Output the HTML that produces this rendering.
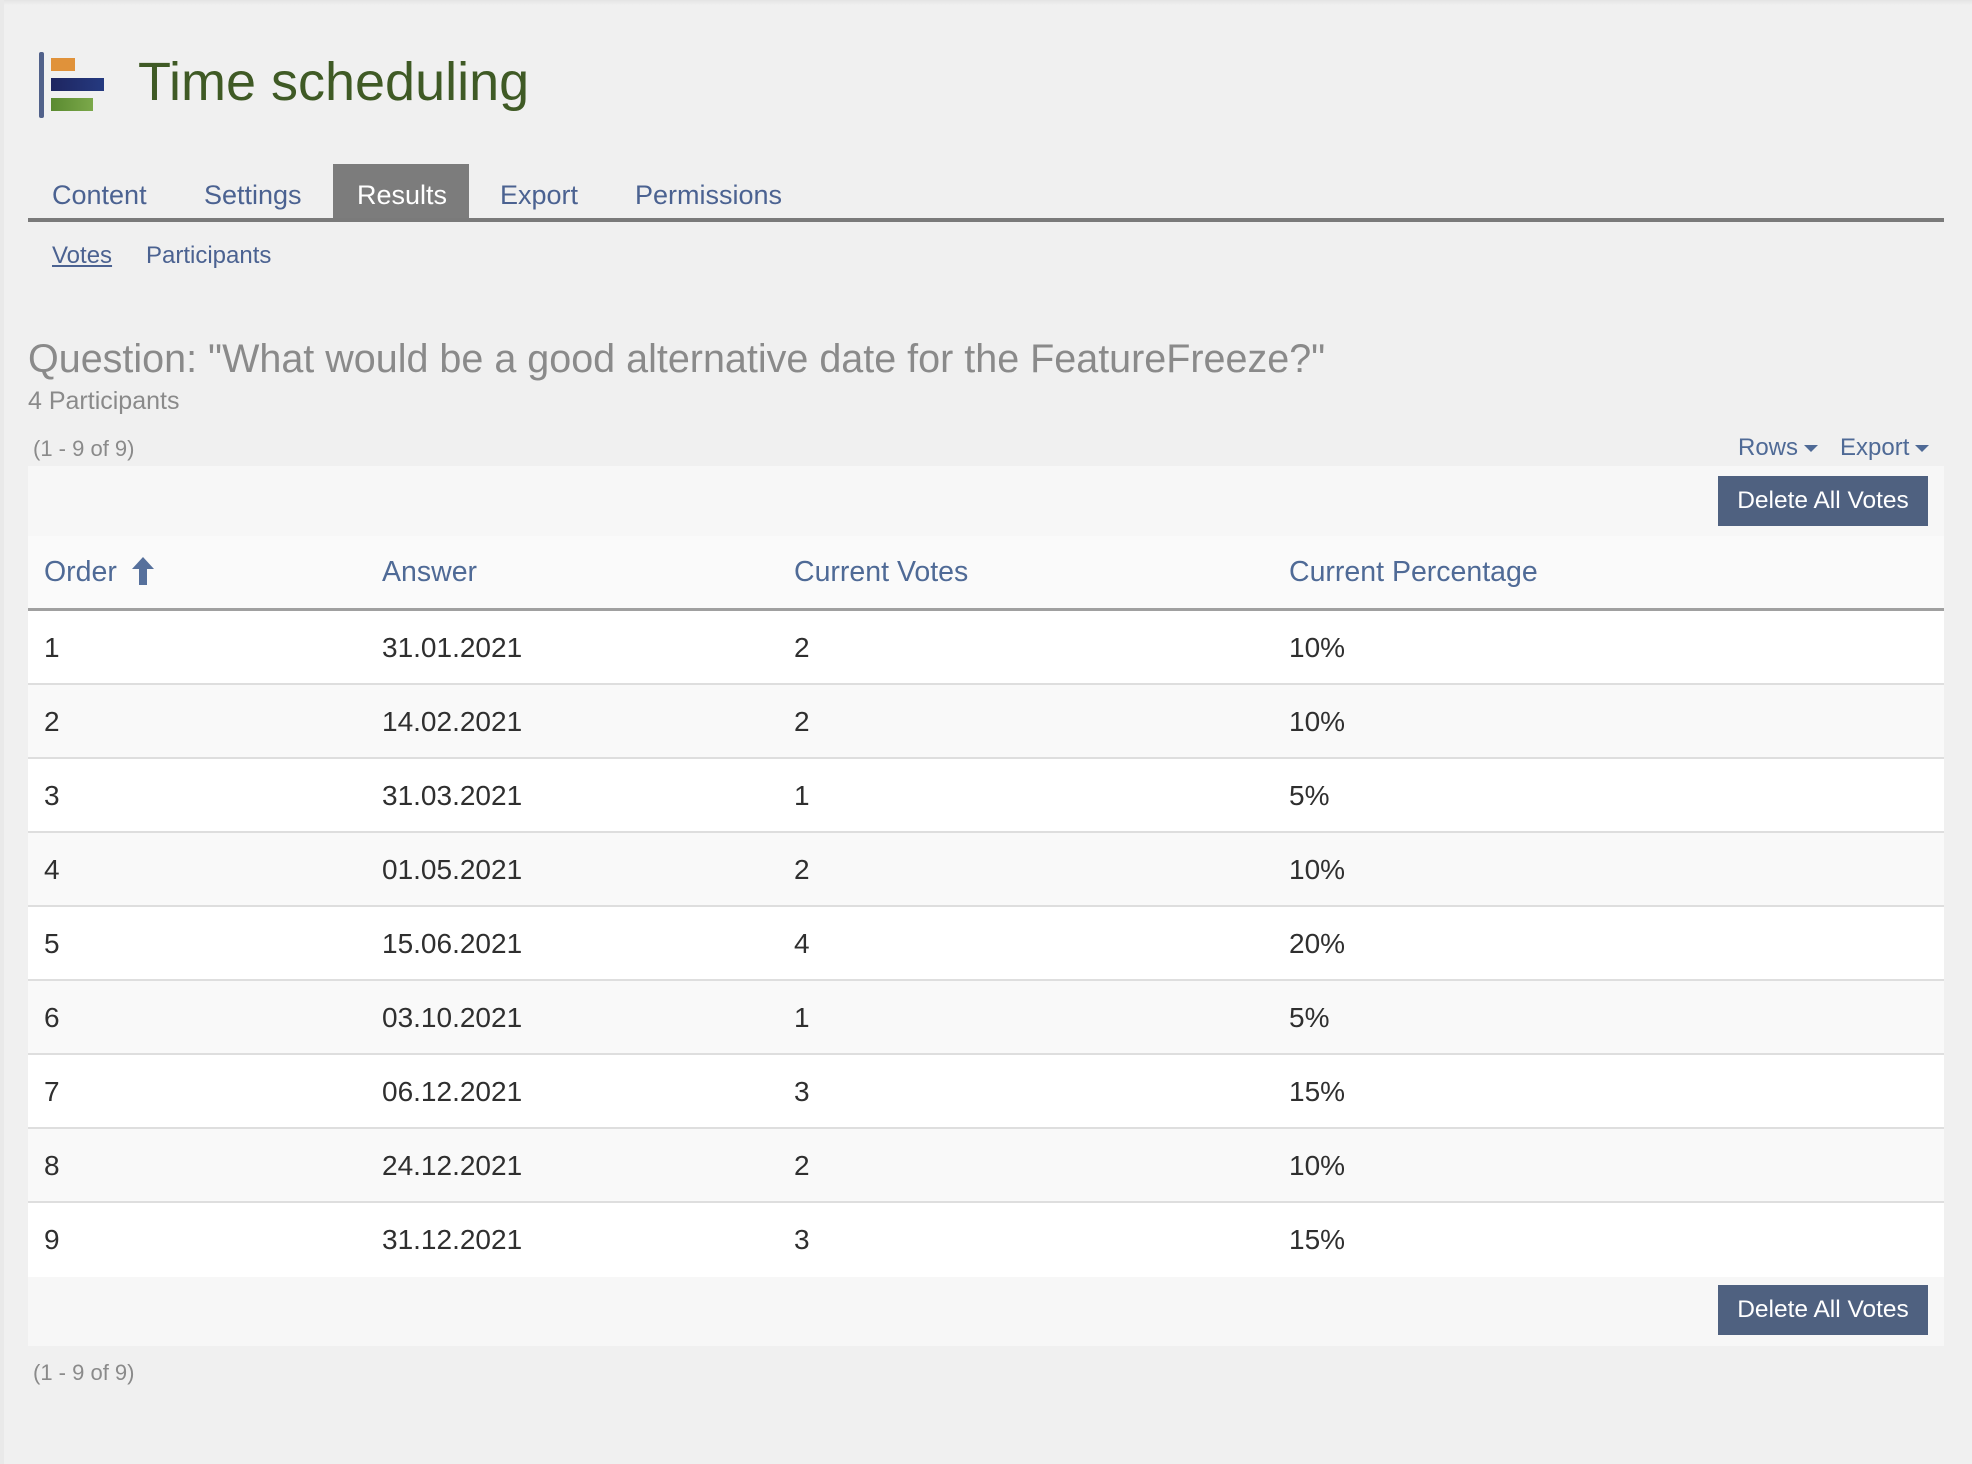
<!DOCTYPE html>
<html><head><meta charset="utf-8"><style>
*{margin:0;padding:0;box-sizing:border-box}
body{width:1972px;height:1464px;background:#f0f0f0;position:relative;overflow:hidden;font-family:"Liberation Sans",sans-serif}
.a{position:absolute;white-space:nowrap}
.topb{position:absolute;left:0;top:0;width:1972px;height:5px;background:linear-gradient(#e4e4e4,#f0f0f0)}
.leftb{position:absolute;left:0;top:0;width:4px;height:1464px;background:#e9e9e9}
.tab{font-size:27px;color:#4b6291;top:179px;height:32px;line-height:32px}
.hd{font-size:28.5px;color:#4f6a96;top:556px}
.cell{font-size:28px;color:#2f2f2f}
.row{position:absolute;left:28px;width:1916px;height:74px;border-bottom:2px solid #dedede}
.btn{position:absolute;left:1718px;width:210px;height:50px;background:#4f6180;color:#fff;font-size:24.5px;line-height:50px;text-align:center}
.caret{display:inline-block;width:0;height:0;border-left:7px solid transparent;border-right:7px solid transparent;border-top:7px solid #4f6a96;vertical-align:middle;margin-left:6px}
</style></head><body>
<div class="topb"></div><div class="leftb"></div>
<div class="a" style="left:39px;top:52px;width:5px;height:66px;background:#51618a;border-radius:2px"></div>
<div class="a" style="left:51px;top:58px;width:24px;height:13px;background:#e0923a"></div>
<div class="a" style="left:51px;top:78px;width:53px;height:13px;background:linear-gradient(90deg,#1e2560,#253a80)"></div>
<div class="a" style="left:51px;top:98px;width:42px;height:13px;background:linear-gradient(90deg,#5a8a30,#7ba84a)"></div>
<div class="a" style="left:138px;top:50px;font-size:54px;line-height:64px;color:#3f5a25">Time scheduling</div>
<div class="a" style="left:333px;top:164px;width:136px;height:55px;background:#7c7c7c"></div>
<div class="a" style="left:28px;top:218px;width:1916px;height:4px;background:#7a7a7a"></div>
<div class="a tab" style="left:52px">Content</div>
<div class="a tab" style="left:204px">Settings</div>
<div class="a tab" style="left:357px;color:#fff">Results</div>
<div class="a tab" style="left:500px">Export</div>
<div class="a tab" style="left:635px">Permissions</div>
<div class="a" style="left:52px;top:242px;font-size:24px;color:#4b6291;text-decoration:underline">Votes</div>
<div class="a" style="left:146px;top:242px;font-size:24px;color:#4b6291">Participants</div>
<div class="a" style="left:28px;top:337px;font-size:39.5px;color:#8a8a8a">Question: "What would be a good alternative date for the FeatureFreeze?"</div>
<div class="a" style="left:28px;top:387px;font-size:25px;color:#8a8a8a">4 Participants</div>
<div class="a" style="left:33px;top:436px;font-size:22px;color:#8a8a8a">(1 - 9 of 9)</div>
<div class="a" style="left:1738px;top:434px;font-size:24px;color:#4f6a96">Rows<span class="caret"></span></div>
<div class="a" style="left:1840px;top:434px;font-size:24px;color:#4f6a96">Export<span class="caret"></span></div>
<div class="a" style="left:28px;top:466px;width:1916px;height:70px;background:#f7f7f7"></div>
<div class="btn" style="top:476px">Delete All Votes</div>
<div class="a" style="left:28px;top:536px;width:1916px;height:75px;background:#fafafa;border-bottom:3px solid #a0a0a0"></div>
<div class="a hd" style="left:44px">Order</div>
<svg class="a" style="left:131px;top:557px" width="24" height="28"><polygon points="12,0 23,12 16,12 16,28 8,28 8,12 1,12" fill="#56709c"/></svg>
<div class="a hd" style="left:382px">Answer</div>
<div class="a hd" style="left:794px">Current Votes</div>
<div class="a hd" style="left:1289px">Current Percentage</div>
<div class="row" style="top:611px;background:#fff"></div>
<div class="row" style="top:685px;background:#f9f9f9"></div>
<div class="row" style="top:759px;background:#fff"></div>
<div class="row" style="top:833px;background:#f9f9f9"></div>
<div class="row" style="top:907px;background:#fff"></div>
<div class="row" style="top:981px;background:#f9f9f9"></div>
<div class="row" style="top:1055px;background:#fff"></div>
<div class="row" style="top:1129px;background:#f9f9f9"></div>
<div class="row" style="top:1203px;background:#fff;border-bottom:none"></div>
<div class="a" style="left:28px;top:1277px;width:1916px;height:69px;background:#f7f7f7"></div>
<div class="btn" style="top:1285px">Delete All Votes</div>
<div class="a" style="left:33px;top:1360px;font-size:22px;color:#8a8a8a">(1 - 9 of 9)</div>
<div class="a cell" style="left:44px;top:611px;line-height:74px">1<br>2<br>3<br>4<br>5<br>6<br>7<br>8<br>9</div>
<div class="a cell" style="left:382px;top:611px;line-height:74px">31.01.2021<br>14.02.2021<br>31.03.2021<br>01.05.2021<br>15.06.2021<br>03.10.2021<br>06.12.2021<br>24.12.2021<br>31.12.2021</div>
<div class="a cell" style="left:794px;top:611px;line-height:74px">2<br>2<br>1<br>2<br>4<br>1<br>3<br>2<br>3</div>
<div class="a cell" style="left:1289px;top:611px;line-height:74px">10%<br>10%<br>5%<br>10%<br>20%<br>5%<br>15%<br>10%<br>15%</div>
</body></html>
